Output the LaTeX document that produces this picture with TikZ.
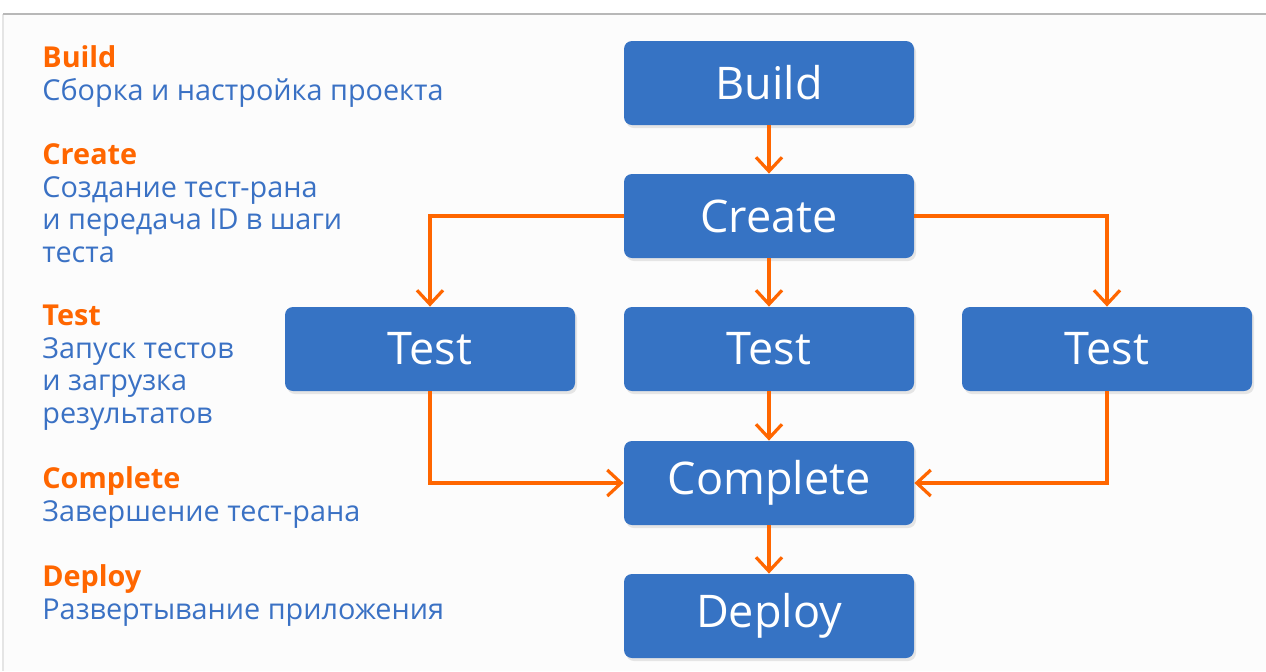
\documentclass[tikz,border=0pt]{standalone}
\usepackage{fontspec}
\setmainfont{Open Sans}
\usepackage{xcolor}
\usepackage{tikz}
\usetikzlibrary{arrows.meta,positioning,shadows}
\definecolor{boxblue}{HTML}{3673C4}
\definecolor{txtblue}{HTML}{3A71C4}
\definecolor{arrorange}{HTML}{FF6600}
\tikzset{
	stage/.style={draw=none, fill=boxblue, rounded corners=4pt, minimum width=145pt,
		minimum height=42pt, text=white, font=\fontsize{22.5}{26}\selectfont,
		drop shadow={shadow xshift=1pt, shadow yshift=-1.5pt, opacity=0.18}},
	flow/.style={draw=arrorange, line width=1.6pt,
		-{Straight Barb[length=7pt, width=13pt, line width=1.6pt]}},
	legend/.style={anchor=base west, inner sep=0pt, align=left, text=txtblue,
		font=\fontsize{14.4}{16.2}\selectfont},
}
\newcommand{\stagename}[1]{\textcolor{arrorange}{\textbf{#1}}}

\begin{document}
\begin{tikzpicture}[x=0.5pt, y=-0.5pt]
	\useasboundingbox (0,0) rectangle (1266,671);
	% frame
	\fill[white] (0,0) rectangle (1266,671);
	\fill[black!1] (3,14) rectangle (1266,671);
	\draw[black!10, line width=1pt] (3,671) -- (3,14);
	\draw[black!28, line width=1pt] (3,14) -- (1266,14);
	% pipeline
	\node[stage] at (769,83) (build) {Build};
	\node[stage] at (769,216) (create) {Create};
	\node[stage] at (430,349) (testl) {Test};
	\node[stage] at (769,349) (testm) {Test};
	\node[stage] at (1107,349) (testr) {Test};
	\node[stage] at (769,483) (complete) {Complete};
	\node[stage] at (769,616) (deploy) {Deploy};
	\draw[flow] (build) -- (create);
	\draw[flow] (create.west) -| (testl.north);
	\draw[flow] (create) -- (testm);
	\draw[flow] (create.east) -| (testr.north);
	\draw[flow] (testl.south) |- (complete.west);
	\draw[flow] (testm) -- (complete);
	\draw[flow] (testr.south) |- (complete.east);
	\draw[flow] (complete) -- (deploy);
	% legend (base = last line)
	\node[legend] at (42,100) (lbuild) {\stagename{Build}\\Сборка и настройка проекта};
	\node[legend] at (42,262) (lcreate) {\stagename{Create}\\Создание тест-рана\\и передача ID в шаги\\теста};
	\node[legend] at (42,423) (ltest) {\stagename{Test}\\Запуск тестов\\и загрузка\\результатов};
	\node[legend] at (42,521) (lcomplete) {\stagename{Complete}\\Завершение тест-рана};
	\node[legend] at (42,619) (ldeploy) {\stagename{Deploy}\\Развертывание приложения};
\end{tikzpicture}
\end{document}
